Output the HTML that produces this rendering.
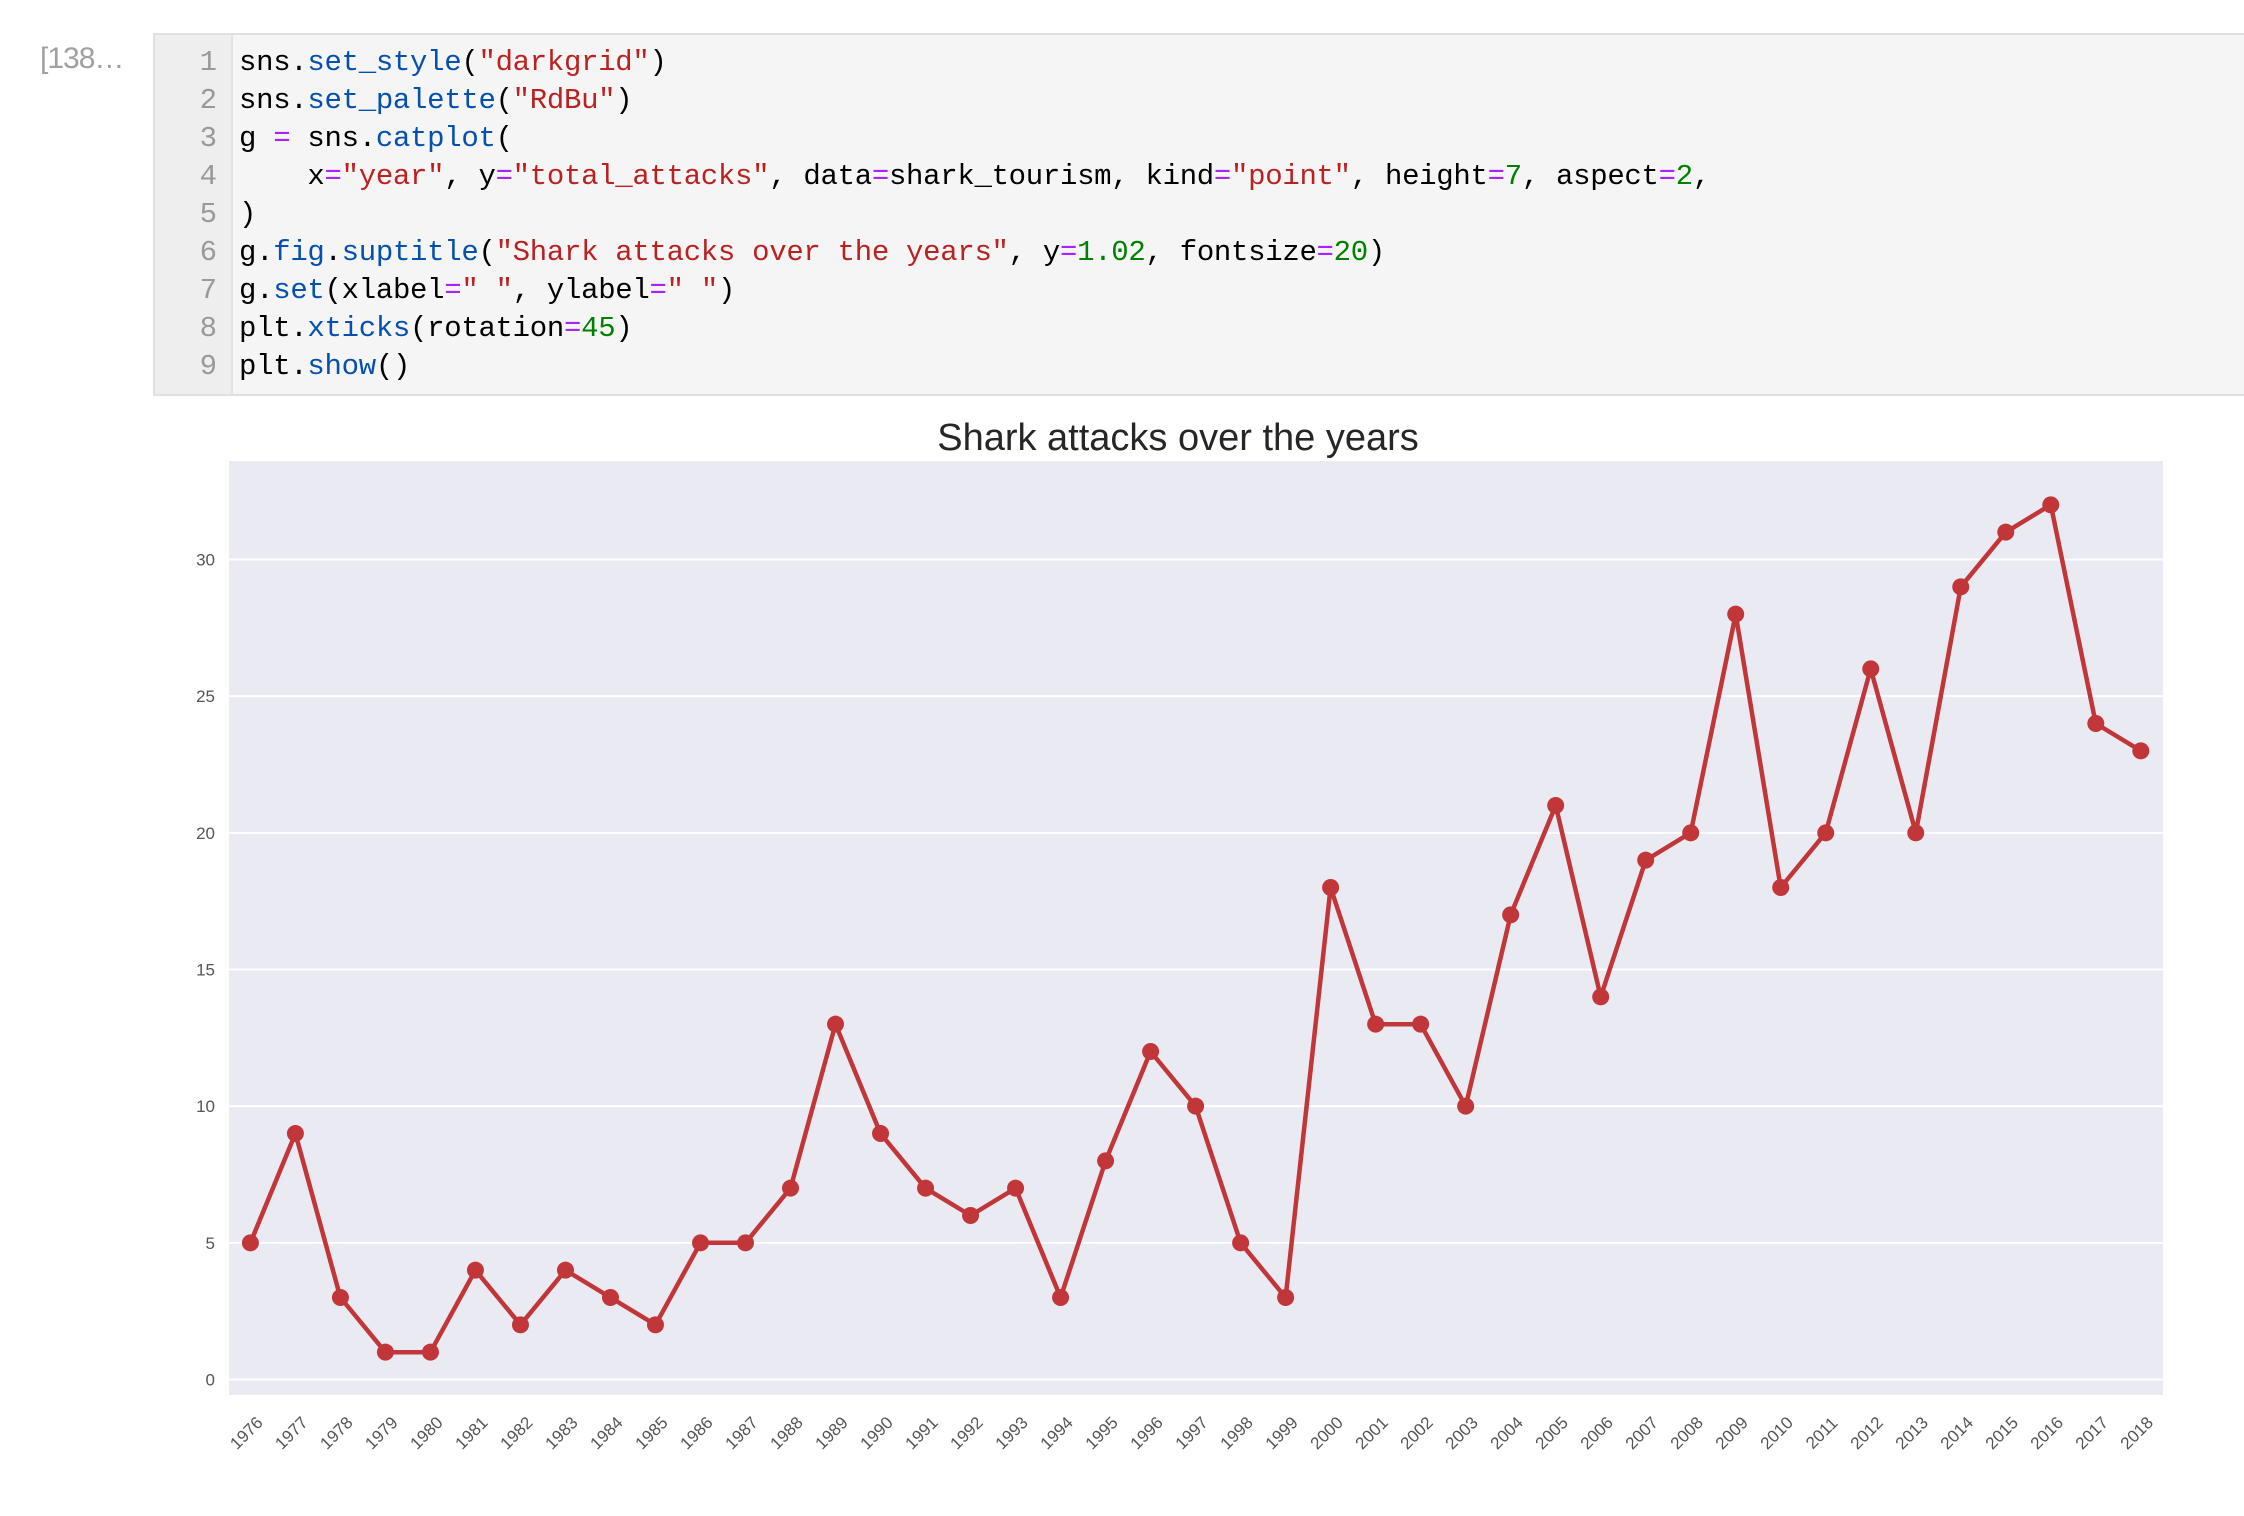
<!DOCTYPE html>
<html><head><meta charset="utf-8">
<style>
html,body{margin:0;padding:0;background:#fff;width:2244px;height:1516px;overflow:hidden;position:relative;font-family:"Liberation Sans",sans-serif;}
#prompt{position:absolute;left:40px;top:42px;font:30px "Liberation Sans",sans-serif;color:#a0a0a0;letter-spacing:-1px;}
#code{position:absolute;left:153px;top:33px;width:2091px;height:363px;background:#f5f5f5;border:2px solid #e0e0e0;border-right:none;box-sizing:border-box;}
#gutter{position:absolute;left:0;top:0;width:76px;height:100%;background:#eeeeee;border-right:2px solid #e3e3e3;}
.ln{position:absolute;right:14px;font:29px "Liberation Mono",monospace;color:#999;}
.cl{position:absolute;left:84px;font:29px "Liberation Mono",monospace;color:#000;white-space:pre;letter-spacing:-0.3px;}
.f{color:#0550ae}.s{color:#ba2121}.n{color:#008000}.e{color:#aa22ff}
</style></head>
<body>
<div id="prompt">[138…</div>
<div id="code">
<div id="gutter">
<div class="ln" style="top:11px">1</div>
<div class="ln" style="top:49px">2</div>
<div class="ln" style="top:87px">3</div>
<div class="ln" style="top:125px">4</div>
<div class="ln" style="top:163px">5</div>
<div class="ln" style="top:201px">6</div>
<div class="ln" style="top:239px">7</div>
<div class="ln" style="top:277px">8</div>
<div class="ln" style="top:315px">9</div>
</div>
<div class="cl" style="top:11px">sns.<span class="f">set_style</span>(<span class="s">"darkgrid"</span>)</div>
<div class="cl" style="top:49px">sns.<span class="f">set_palette</span>(<span class="s">"RdBu"</span>)</div>
<div class="cl" style="top:87px">g <span class="e">=</span> sns.<span class="f">catplot</span>(</div>
<div class="cl" style="top:125px">    x<span class="e">=</span><span class="s">"year"</span>, y<span class="e">=</span><span class="s">"total_attacks"</span>, data<span class="e">=</span>shark_tourism, kind<span class="e">=</span><span class="s">"point"</span>, height<span class="e">=</span><span class="n">7</span>, aspect<span class="e">=</span><span class="n">2</span>,</div>
<div class="cl" style="top:163px">)</div>
<div class="cl" style="top:201px">g.<span class="f">fig</span>.<span class="f">suptitle</span>(<span class="s">"Shark attacks over the years"</span>, y<span class="e">=</span><span class="n">1.02</span>, fontsize<span class="e">=</span><span class="n">20</span>)</div>
<div class="cl" style="top:239px">g.<span class="f">set</span>(xlabel<span class="e">=</span><span class="s">" "</span>, ylabel<span class="e">=</span><span class="s">" "</span>)</div>
<div class="cl" style="top:277px">plt.<span class="f">xticks</span>(rotation<span class="e">=</span><span class="n">45</span>)</div>
<div class="cl" style="top:315px">plt.<span class="f">show</span>()</div>
</div>
<svg id="chart" width="2244" height="1516" style="position:absolute;left:0;top:0"></svg>
<script>
const years = [1976,1977,1978,1979,1980,1981,1982,1983,1984,1985,1986,1987,1988,1989,1990,1991,1992,1993,1994,1995,1996,1997,1998,1999,2000,2001,2002,2003,2004,2005,2006,2007,2008,2009,2010,2011,2012,2013,2014,2015,2016,2017,2018];
const attacks = [5,9,3,1,1,4,2,4,3,2,5,5,7,13,9,7,6,7,3,8,12,10,5,3,18,13,13,10,17,21,14,19,20,28,18,20,26,20,29,31,32,24,23];
const yTicks = [0,5,10,15,20,25,30];
const titleText = "Shark attacks over the years";

const NS = "http://www.w3.org/2000/svg";
const svg = document.getElementById('chart');
const PL = 229, PR = 2163, PT = 461, PB = 1395;
const x0 = 250.4, xStep = (2140.8 - 250.4) / 42;
const yZero = 1379.5, yUnit = (1379.5 - 559.5) / 30;
function xs(i){ return x0 + i * xStep; }
function ys(v){ return yZero - v * yUnit; }
function mk(tag, attrs){ const el = document.createElementNS(NS, tag); for (const k in attrs) el.setAttribute(k, attrs[k]); svg.appendChild(el); return el; }

const bg = mk('rect', {x:PL, y:PT, width:PR-PL, height:PB-PT, fill:'#eaeaf2'});



yTicks.forEach(t => {
  const g = mk('line', {x1:PL, x2:PR, y1:ys(t), y2:ys(t), stroke:'#ffffff', 'stroke-width':2});
  
  
  const lb = mk('text', {x:215, y:ys(t)+6, 'text-anchor':'end', 'font-size':17, fill:'#555', 'font-family':'Liberation Sans, sans-serif'});
  lb.textContent = t;
  
  
});

years.forEach((yr, i) => {
  const lb = mk('text', {x:0, y:0, 'text-anchor':'middle', 'font-size':17, fill:'#555', 'font-family':'Liberation Sans, sans-serif', transform:`translate(${xs(i)},1437) rotate(-45)`});
  lb.textContent = yr;
  
  
});

const pts = attacks.map((v, i) => xs(i).toFixed(1) + ',' + ys(v).toFixed(1)).join(' ');
const line = mk('polyline', {points:pts, fill:'none', stroke:'#c13639', 'stroke-width':4.5, 'stroke-linejoin':'round'});



attacks.forEach((v, i) => {
  const c = mk('circle', {cx:xs(i), cy:ys(v), r:8.5, fill:'#c13639'});
  
  
});

const title = mk('text', {x:1178, y:450, 'text-anchor':'middle', 'font-size':38, fill:'#262626', 'font-family':'Liberation Sans, sans-serif'});
title.textContent = titleText;


</script>
</body></html>
